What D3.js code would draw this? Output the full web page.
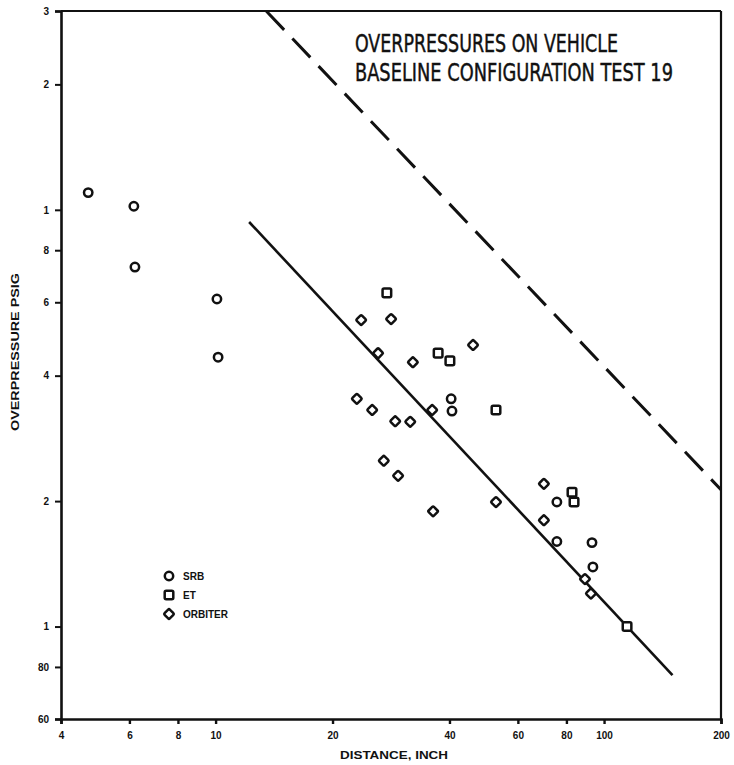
<!DOCTYPE html>
<html>
<head>
<meta charset="utf-8">
<script src="https://cdn.jsdelivr.net/npm/d3@7"></script>
<style>
  html, body { margin: 0; padding: 0; background: #fff; }
  svg { display: block; }
  text { fill: #111; }
</style>
</head>
<body>
<svg id="chart" width="734" height="765"></svg>
<script>
// Overpressures on vehicle, baseline configuration, test 19
const titleLines = ["OVERPRESSURES ON VEHICLE", "BASELINE CONFIGURATION TEST 19"];
const xLabel = "DISTANCE, INCH";
const yLabel = "OVERPRESSURE PSIG";

const xTicks = [4, 6, 8, 10, 20, 40, 60, 80, 100, 200];
const xTickLabels = ["4", "6", "8", "10", "20", "40", "60", "80", "100", "200"];
const yTicks = [30, 20, 10, 8, 6, 4, 2, 1, 0.8, 0.6];
const yTickLabels = ["3", "2", "1", "8", "6", "4", "2", "1", "80", "60"];

// SRB measurements (distance in, overpressure psig)
const srbDist = [4.7, 6.16, 6.2, 10.08, 10.15, 40.4, 40.6, 75.6, 75.6, 93.1, 93.6];
const srbPsi  = [11.0, 10.2, 7.29, 6.11, 4.43, 3.52, 3.29, 1.99, 1.60, 1.59, 1.39];

// ET measurements
const etDist = [27.6, 37.4, 40.1, 52.7, 82.7, 83.7, 114.6];
const etPsi  = [6.32, 4.53, 4.34, 3.31, 2.10, 1.99, 1.00];

// Orbiter measurements
const orbDist = [23.7, 28.3, 26.2, 32.2, 46.0, 23.1, 25.3, 29.0, 31.7, 36.1, 27.1, 29.5, 36.3, 52.7, 70.0, 70.0, 89.3, 92.5];
const orbPsi  = [5.44, 5.47, 4.53, 4.31, 4.74, 3.52, 3.31, 3.11, 3.10, 3.31, 2.50, 2.30, 1.89, 1.99, 2.20, 1.80, 1.30, 1.20];

// Fitted trend (solid) and upper bound (dashed)
const fitDist = [12.2, 150];
const fitPsi  = [9.35, 0.765];
const boundDist = [13.5, 200];
const boundPsi  = [30, 2.13];

const legendNames = ["SRB", "ET", "ORBITER"];
const legendShapes = ["circle", "square", "diamond"];

const svg = d3.select("#chart");
const plotLeft = 61, plotRight = 721, plotTop = 11, plotBottom = 719;

const x = d3.scaleLog().domain([4, 200]).range([plotLeft, plotRight]);
const y = d3.scaleLog().domain([0.6, 30]).range([plotBottom, plotTop]);

const ink = "#111";
const fontAxis = "'Liberation Sans', Arial, sans-serif";

// frame
svg.append("line").attr("x1", x(4)).attr("x2", x(200)).attr("y1", y(30)).attr("y2", y(30))
  .attr("stroke", ink).attr("stroke-width", 2);
svg.append("line").attr("x1", x(200)).attr("x2", x(200)).attr("y1", y(30)).attr("y2", y(0.6))
  .attr("stroke", ink).attr("stroke-width", 2.2);

// axes
const yAxis = d3.axisLeft(y).tickValues(yTicks)
  .tickFormat((d, i) => yTickLabels[i]).tickSize(6).tickPadding(6);
const gy = svg.append("g").attr("transform", `translate(${plotLeft},0)`).call(yAxis);
gy.select(".domain").attr("stroke", ink).attr("stroke-width", 2.6);
gy.selectAll(".tick line").attr("stroke", ink).attr("stroke-width", 2);
gy.selectAll(".tick text").attr("font-family", fontAxis).attr("font-weight", "bold")
  .attr("font-size", 10).attr("fill", ink);

const xAxis = d3.axisBottom(x).tickValues(xTicks)
  .tickFormat((d, i) => xTickLabels[i]).tickSize(5).tickPadding(8);
const gx = svg.append("g").attr("transform", `translate(0,${plotBottom})`).call(xAxis);
gx.select(".domain").attr("stroke", ink).attr("stroke-width", 2.6);
gx.selectAll(".tick line").attr("stroke", ink).attr("stroke-width", 2.4);
gx.selectAll(".tick text").attr("font-family", fontAxis).attr("font-weight", "bold")
  .attr("font-size", 10).attr("fill", ink);

// axis titles
svg.append("text").attr("x", 340).attr("y", 759)
  .attr("font-family", fontAxis).attr("font-weight", "bold").attr("font-size", 10)
  .attr("textLength", 108).attr("lengthAdjust", "spacingAndGlyphs").text(xLabel);

svg.append("text").attr("transform", "translate(19,352) rotate(-90)")
  .attr("text-anchor", "middle")
  .attr("font-family", fontAxis).attr("font-weight", "bold").attr("font-size", 10)
  .attr("textLength", 158).attr("lengthAdjust", "spacingAndGlyphs").text(yLabel);

// title block: narrow lettering, stretched vertically
const titleFont = "'Liberation Sans Narrow', 'DejaVu Sans Condensed', 'Liberation Sans', sans-serif";
const titleBase = [52, 81];
const titleLen = [263, 318];
titleLines.forEach((t, i) => {
  svg.append("text")
    .attr("transform", `translate(355,${titleBase[i]}) scale(1,1.22)`)
    .attr("font-family", titleFont).attr("font-size", 20)
    .attr("stroke", ink).attr("stroke-width", 0.35)
    .attr("textLength", titleLen[i]).attr("lengthAdjust", "spacingAndGlyphs").text(t);
});

// lines
const line = d3.line().x(d => x(d[0])).y(d => y(d[1]));
svg.append("path").datum(boundDist.map((d, i) => [d, boundPsi[i]]))
  .attr("d", line).attr("fill", "none").attr("stroke", ink)
  .attr("stroke-width", 3).attr("stroke-dasharray", "26 12");
svg.append("path").datum(fitDist.map((d, i) => [d, fitPsi[i]]))
  .attr("d", line).attr("fill", "none").attr("stroke", ink)
  .attr("stroke-width", 2.6);

// markers
function marker(g, shape, cx, cy) {
  if (shape === "circle") {
    g.append("circle").attr("cx", cx).attr("cy", cy).attr("r", 4.2);
  } else if (shape === "square") {
    g.append("rect").attr("x", cx - 4.3).attr("y", cy - 4.3)
      .attr("width", 8.6).attr("height", 8.6).attr("rx", 1.5);
  } else {
    g.append("rect").attr("x", cx - 3.7).attr("y", cy - 3.7)
      .attr("width", 7.4).attr("height", 7.4).attr("rx", 1.2)
      .attr("transform", `rotate(45 ${cx} ${cy})`);
  }
}
const pts = svg.append("g").attr("fill", "#fff").attr("stroke", ink).attr("stroke-width", 2.5);
const series = [
  [srbDist, srbPsi, "circle"],
  [etDist, etPsi, "square"],
  [orbDist, orbPsi, "diamond"]
];
series.forEach(([xs, ys, shape]) => {
  xs.forEach((d, i) => marker(pts, shape, x(d), y(ys[i])));
});

// legend
const leg = svg.append("g");
const legY = [576, 595, 614];
legendNames.forEach((name, i) => {
  const g = leg.append("g").attr("fill", "#fff").attr("stroke", ink).attr("stroke-width", 2.5);
  marker(g, legendShapes[i], 169, legY[i]);
  leg.append("text").attr("x", 183).attr("y", legY[i] + 4)
    .attr("font-family", fontAxis).attr("font-weight", "bold").attr("font-size", 10)
    .text(name);
});
</script>
</body>
</html>
